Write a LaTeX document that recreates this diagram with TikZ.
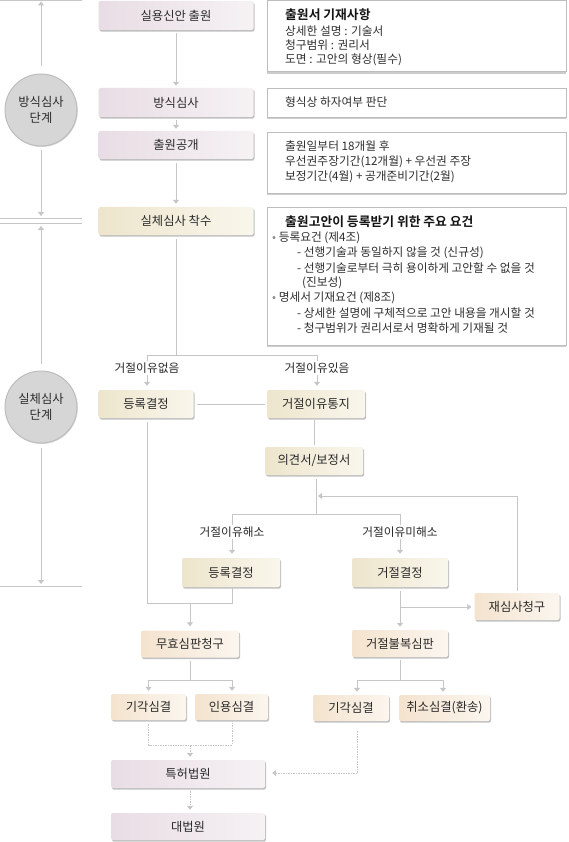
\documentclass[tikz,border=0pt]{standalone}
\usepackage{fontspec}
\setmainfont{Noto Sans CJK KR}[BoldFont={Noto Sans CJK KR Bold}]
\usetikzlibrary{arrows.meta,shadows}
\definecolor{ln}{HTML}{C6C6C6}
\definecolor{txt}{HTML}{2A2A2A}
\definecolor{itxt}{HTML}{2F2F2F}
\definecolor{pinkL}{HTML}{E8DDE4}
\definecolor{pinkR}{HTML}{F6F2F4}
\definecolor{creamL}{HTML}{EDE5CC}
\definecolor{creamR}{HTML}{F9F6EC}
\definecolor{peachL}{HTML}{F4E3CE}
\definecolor{peachR}{HTML}{FBF6EF}
\definecolor{circfill}{HTML}{D6D6D6}
\definecolor{circline}{HTML}{BDBDBD}
\definecolor{infoline}{HTML}{BEBEBE}
\begin{document}
\begin{tikzpicture}[x=1pt,y=-1pt,
  box/.style={rounded corners=2pt, inner sep=0pt, text=txt,
    font=\fontsize{12.3}{14}\selectfont,
    drop shadow={shadow xshift=1pt,shadow yshift=-1.6pt,fill=black!45,opacity=0.55}},
  pinkbox/.style={box, left color=pinkL, right color=pinkR},
  creambox/.style={box, left color=creamL, right color=creamR},
  peachbox/.style={box, left color=peachL, right color=peachR},
  infobox/.style={draw=infoline, fill=white, line width=0.8pt, inner sep=0pt,
    minimum width=299pt,
    drop shadow={shadow xshift=0pt,shadow yshift=-2.2pt,fill=black!25,opacity=0.8}},
  itext/.style={anchor=west, inner sep=0pt, text=itxt, font=\fontsize{11.7}{13}\selectfont},
  ititle/.style={anchor=west, inner sep=0pt, text=black!92, font=\fontsize{12.8}{14}\selectfont\bfseries},
  circ/.style={circle, minimum size=72pt, inner sep=0pt, fill=circfill, draw=circline,
    line width=1pt, align=center, text=txt, font=\fontsize{12.3}{16}\selectfont,
    drop shadow={shadow xshift=0.8pt,shadow yshift=-1pt,fill=black!30,opacity=0.5}},
  con/.style={draw=ln, line width=0.8pt},
  arr/.style={con, -{Triangle[width=6pt,length=4pt]}},
  dsh/.style={draw=ln, line width=0.8pt, dash pattern=on 1.5pt off 1pt},
  darr/.style={dsh, -{Triangle[width=6pt,length=4pt]}},
  lbl/.style={fill=white, inner sep=1.5pt, text=txt, font=\fontsize{11.7}{13}\selectfont}
]
\useasboundingbox (0,0) rectangle (568,842);

% ---------- left stage column ----------
\node[circ] (c1) at (41,110) {방식심사\\단계};
\node[circ] (c2) at (41,407) {실체심사\\단계};
\coordinate (t0) at (41,1.5);
\coordinate (t1) at (41,216);
\coordinate (t2) at (41,226);
\coordinate (t3) at (41,584);
\coordinate (h0a) at (0,0.6);   \coordinate (h0b) at (82,0.6);
\coordinate (h1a) at (0,218.5); \coordinate (h1b) at (82,218.5);
\coordinate (h2a) at (0,223.5); \coordinate (h2b) at (82,223.5);
\coordinate (h3a) at (0,586);   \coordinate (h3b) at (82,586);
\draw[con] (h0a) -- (h0b);
\draw[con] (h1a) -- (h1b);
\draw[con] (h2a) -- (h2b);
\draw[con] (h3a) -- (h3b);
\draw[arr, shorten <=7pt] (c1.north) -- (t0);
\draw[arr, shorten <=4pt] (c1.south) -- (t1);
\draw[arr, shorten <=7pt] (c2.north) -- (t2);
\draw[arr, shorten <=4pt] (c2.south) -- (t3);

% ---------- main boxes ----------
\node[pinkbox, minimum width=155pt, minimum height=29pt] (n1) at (176,15.5) {실용신안 출원};
\node[pinkbox, minimum width=155pt, minimum height=29pt] (n2) at (176,102.5) {방식심사};
\node[pinkbox, minimum width=155pt, minimum height=28pt] (n3) at (176,145) {출원공개};
\node[creambox, minimum width=155pt, minimum height=28pt] (n4) at (176,221) {실체심사 착수};

\node[creambox, minimum width=95pt, minimum height=28pt] (r1) at (146,404) {등록결정};
\node[creambox, minimum width=98pt, minimum height=28pt] (r2) at (316,404) {거절이유통지};
\node[creambox, minimum width=98pt, minimum height=28pt] (op) at (314,461) {의견서/보정서};
\node[creambox, minimum width=98pt, minimum height=29pt] (r3) at (231,572.5) {등록결정};
\node[creambox, minimum width=96pt, minimum height=29pt] (rj) at (400,572.5) {거절결정};
\node[peachbox, minimum width=85pt, minimum height=27pt] (re) at (517,606.5) {재심사청구};
\node[peachbox, minimum width=98pt, minimum height=27pt] (mu) at (190,644) {무효심판청구};
\node[peachbox, minimum width=96pt, minimum height=27pt] (gb) at (400,643.5) {거절불복심판};
\node[peachbox, minimum width=75pt, minimum height=26pt] (k1) at (148.5,707) {기각심결};
\node[peachbox, minimum width=73pt, minimum height=26pt] (in) at (231.5,707) {인용심결};
\node[peachbox, minimum width=76pt, minimum height=26pt] (k2) at (351,708) {기각심결};
\node[peachbox, minimum width=91pt, minimum height=26pt] (cs) at (444.5,708) {취소심결(환송)};
\node[pinkbox, minimum width=154pt, minimum height=28pt] (pc) at (188,774) {특허법원};
\node[pinkbox, minimum width=154pt, minimum height=27pt] (sc) at (188,826.5) {대법원};

% ---------- info boxes ----------
\node[infobox, minimum height=71pt] (i1) at (416.5,36) {};
\node[infobox, minimum height=29pt] (i2) at (416.5,102.5) {};
\node[infobox, minimum height=61pt] (i3) at (416.5,162.5) {};
\node[infobox, minimum height=138pt] (i4) at (416.5,276) {};

\node[ititle] (i1t) at (285,15) {출원서 기재사항};
\node[itext] (i1a) at (285,31) {상세한 설명 : 기술서};
\node[itext] (i1b) at (285,45.5) {청구범위 : 권리서};
\node[itext] (i1c) at (285,60) {도면 : 고안의 형상(필수)};
\node[itext] (i2a) at (285,102.5) {형식상 하자여부 판단};
\node[itext] (i3a) at (285,146) {출원일부터 18개월 후};
\node[itext] (i3b) at (285,161.5) {우선권주장기간(12개월) + 우선권 주장};
\node[itext] (i3c) at (285,177) {보정기간(4월) + 공개준비기간(2월)};
\node[ititle] (i4t) at (285,222) {출원고안이 등록받기 위한 주요 요건};
\node[itext] (i4a) at (272,238) {{\color{black!45}•} 등록요건 (제4조)};
\node[itext] (i4b) at (297,253) {- 선행기술과 동일하지 않을 것 (신규성)};
\node[itext] (i4c) at (297,268) {- 선행기술로부터 극히 용이하게 고안할 수 없을 것};
\node[itext] (i4d) at (302,283) {(진보성)};
\node[itext] (i4e) at (272,298) {{\color{black!45}•} 명세서 기재요건 (제8조)};
\node[itext] (i4f) at (297,313) {- 상세한 설명에 구체적으로 고안 내용을 개시할 것};
\node[itext] (i4g) at (297,328) {- 청구범위가 권리서로서 명확하게 기재될 것};

% ---------- connectors ----------
\draw[arr, shorten <=3pt, shorten >=2pt] (n1) -- (n2);
\draw[arr, shorten <=3pt, shorten >=2pt] (n2) -- (n3);
\draw[arr, shorten <=4pt, shorten >=3pt] (n3) -- (n4);

\coordinate (b1) at (176,355);
\coordinate (b1l) at (147,355);
\coordinate (b1r) at (317,355);
\draw[con, shorten <=4pt] (n4.south) -- (b1);
\draw[con] (b1l) -- (b1r);
\draw[arr, shorten >=4pt] (b1l) -- (b1l |- r1.north);
\draw[arr, shorten >=4pt] (b1r) -- (b1r |- r2.north);
\draw[con, shorten <=3pt, shorten >=2pt] (r1.east) -- (r2.west);
\draw[con, shorten <=2pt, shorten >=2pt] (r2.south -| op.north) -- (op.north);

\coordinate (b2) at (316,514);
\coordinate (b2l) at (232,514);
\coordinate (b2r) at (400,514);
\draw[con, shorten <=4pt] (op.south -| b2) -- (b2);
\draw[con] (b2l) -- (b2r);
\draw[arr, shorten >=4pt] (b2l) -- (b2l |- r3.north);
\draw[arr, shorten >=4pt] (b2r) -- (b2r |- rj.north);

\coordinate (rt1) at (517,496);
\coordinate (rt2) at (318,496);
\draw[con, shorten <=2pt] (re.north) -- (rt1);
\draw[arr] (rt1) -- (rt2);

\coordinate (m1) at (147,603);
\coordinate (m2) at (232,603);
\coordinate (m3) at (190,603);
\draw[con, shorten <=4pt] (r1.south -| m1) -- (m1) -- (m2) -- (r3.south -| m2);
\draw[arr, shorten >=4pt] (m3) -- (m3 |- mu.north);
\draw[arr, shorten <=4pt, shorten >=3pt] (rj.south) -- (gb.north);
\coordinate (g1) at (400,607);
\draw[arr, shorten >=3pt] (g1) -- (g1 -| re.west);

\coordinate (p1) at (190,680);
\coordinate (p1l) at (148.5,680);
\coordinate (p1r) at (232,680);
\draw[con, shorten <=3pt] (mu.south) -- (p1);
\draw[con] (p1l) -- (p1r);
\draw[arr, shorten >=3pt] (p1l) -- (p1l |- k1.north);
\draw[arr, shorten >=3pt] (p1r) -- (p1r |- in.north);

\coordinate (q1) at (400,680);
\coordinate (q1l) at (357,680);
\coordinate (q1r) at (443,680);
\draw[con, shorten <=3pt] (gb.south) -- (q1);
\draw[con] (q1l) -- (q1r);
\draw[arr, shorten >=3pt] (q1l) -- (q1l |- k2.north);
\draw[arr, shorten >=3pt] (q1r) -- (q1r |- cs.north);

\coordinate (d1) at (148.5,745);
\coordinate (d2) at (232,745);
\coordinate (d3) at (190,745);
\draw[dsh, shorten <=4pt] (k1.south) -- (d1) -- (d2) -- (d2 |- in.south);
\draw[darr, shorten >=3pt] (d3) -- (d3 |- pc.north);
\coordinate (e1) at (357,773);
\draw[dsh, shorten <=10pt] (k2.south -| e1) -- (e1);
\draw[darr, shorten >=7pt] (e1) -- (pc.east |- e1);
\draw[darr, shorten <=3pt, shorten >=3pt] (pc.south -| d3) -- (sc.north -| d3);

% ---------- labels ----------
\node[lbl] (l1) at (147,368) {거절이유없음};
\node[lbl] (l2) at (317,368) {거절이유있음};
\node[lbl] (l3) at (232,532) {거절이유해소};
\node[lbl] (l4) at (400,532) {거절이유미해소};
\end{tikzpicture}
\end{document}
